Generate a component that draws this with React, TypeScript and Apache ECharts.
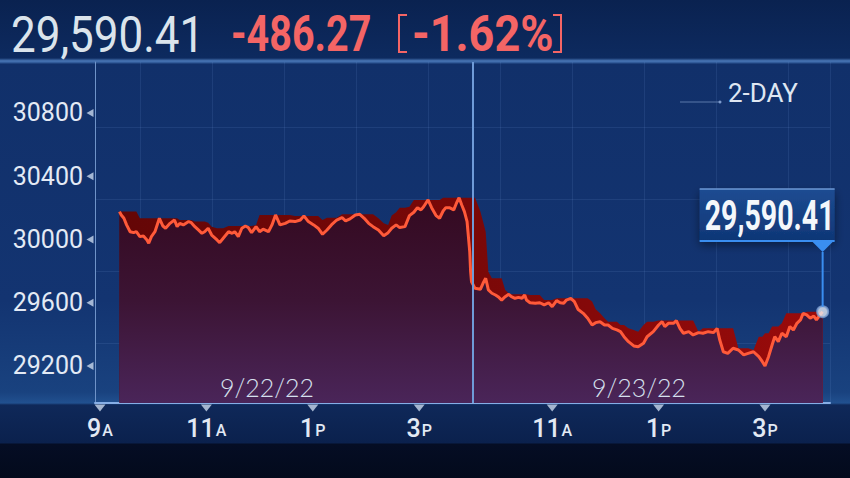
import React, { useEffect, useRef } from "react";
import * as echarts from "echarts";

// minutes after the 9:30 open of 9/22/22 (the 9/23/22 open is at 390)
const day1Times = [-8, -6, -3, 0, 4, 8, 11, 15, 19, 23, 25, 28, 32, 37, 41, 44, 49, 54, 57, 60, 64, 70, 73, 77, 81, 85, 88, 92, 96, 102, 105, 109, 115, 119, 122, 126, 130, 134, 137, 141, 146, 150, 154, 160, 164, 168, 173, 179, 184, 190, 196, 200, 205, 211, 216, 221, 226, 231, 237, 243, 247, 252, 258, 263, 268, 273, 278, 284, 290, 295, 299, 304, 308, 314, 319, 324, 328, 332, 335, 340, 344, 349, 353, 357, 360, 364, 369, 372, 375, 378, 381, 384, 385, 387, 388, 389];
const day1Values = [30176, 30155, 30134, 30092, 30049, 30043, 30049, 30018, 30022, 29997, 29976, 30018, 30049, 30134, 30085, 30071, 30102, 30123, 30081, 30102, 30092, 30113, 30106, 30081, 30060, 30039, 30049, 30071, 30028, 29997, 29980, 30008, 30049, 30039, 30049, 30018, 30071, 30085, 30077, 30043, 30081, 30049, 30065, 30049, 30092, 30155, 30092, 30102, 30117, 30113, 30123, 30149, 30113, 30092, 30071, 30033, 30060, 30092, 30123, 30138, 30117, 30130, 30155, 30159, 30134, 30102, 30081, 30060, 30024, 30043, 30071, 30092, 30075, 30081, 30151, 30172, 30201, 30187, 30207, 30250, 30201, 30151, 30134, 30180, 30201, 30201, 30187, 30229, 30264, 30218, 30176, 30113, 30049, 29923, 29796, 29733];
const day2Times = [393, 399, 402, 405, 408, 412, 416, 419, 423, 427, 431, 434, 438, 442, 446, 449, 451, 455, 461, 466, 471, 476, 480, 485, 489, 493, 496, 501, 505, 509, 515, 520, 525, 529, 534, 539, 543, 548, 553, 557, 561, 566, 572, 577, 583, 587, 594, 600, 604, 607, 611, 617, 620, 624, 628, 634, 639, 645, 650, 656, 662, 666, 669, 673, 678, 684, 690, 696, 701, 707, 713, 717, 720, 724, 728, 731, 735, 739, 744, 748, 752, 756, 760, 763, 767, 771, 775, 778, 782, 785];
const day2Values = [29691, 29685, 29723, 29755, 29681, 29660, 29649, 29638, 29617, 29638, 29653, 29638, 29628, 29634, 29628, 29649, 29617, 29600, 29597, 29600, 29586, 29600, 29575, 29613, 29600, 29597, 29617, 29628, 29607, 29559, 29533, 29502, 29459, 29474, 29480, 29459, 29459, 29438, 29428, 29417, 29385, 29354, 29327, 29322, 29344, 29385, 29417, 29459, 29480, 29449, 29470, 29470, 29487, 29438, 29407, 29417, 29396, 29411, 29407, 29417, 29411, 29438, 29364, 29290, 29280, 29312, 29301, 29270, 29280, 29290, 29259, 29227, 29200, 29259, 29333, 29385, 29354, 29407, 29385, 29449, 29428, 29470, 29491, 29533, 29523, 29502, 29516, 29491, 29523, 29543];

const yTicks = [29200, 29600, 30000, 30400, 30800];
const xTickValues = [-30, 90, 210, 330, 480, 600, 720];
const xTickHours = ["9", "11", "1", "3", "11", "1", "3"];
const xTickSuffix = ["A", "A", "P", "P", "A", "P", "P"];
const dayBreak = 390;
const dateLabels = ["9/22/22", "9/23/22"];
const lastPrice = "29,590.41";
const changeText = "-486.27";
const changePct = "-1.62%";
const rangeLabel = "2-DAY";

const X_MIN = -35.6;
const X_MAX = 793.3;
const Y_MIN = 28966;
const Y_MAX = 31122;

const FONT = "Roboto, 'DejaVu Sans', sans-serif";

export default function App() {
  const ref = useRef<HTMLDivElement>(null);

  useEffect(() => {
    if (!ref.current) return;
    const chart = echarts.init(ref.current, null, { renderer: "svg" });
    const times = [...day1Times, ...day2Times];
    const values = [...day1Values, ...day2Values];
    const pts = times.map((t, i) => [t, values[i]]);
    // ribbon shading above the line: local high of the read values
    const ribbon = times.map((t, i) => {
      let m = values[i];
      times.forEach((u, j) => {
        if (Math.abs(u - t) <= 20 && values[j] > m) m = values[j];
      });
      return [t, m];
    });
    const last = pts[pts.length - 1];

    chart.setOption({
      animation: false,
      backgroundColor: "transparent",
      grid: [
        { left: 95, top: 62, width: 735, height: 341 },
        { left: 140, top: 62, width: 690, height: 341 },
        { left: 95, top: 127, width: 735, height: 216 },
      ],
      xAxis: [
        {
          type: "value",
          gridIndex: 0,
          min: X_MIN,
          max: X_MAX,
          axisLine: { show: true, onZero: false, lineStyle: { color: "#86aee6", width: 2 } },
          axisTick: { show: false },
          splitLine: { show: false },
          axisLabel: {
            customValues: xTickValues,
            margin: 13,
            formatter: (v: number) => {
              const i = xTickValues.indexOf(v);
              return i < 0 ? "" : `{d|${xTickHours[i]}}{s|${xTickSuffix[i]}}`;
            },
            rich: {
              d: { fontSize: 25, fontFamily: FONT, fontWeight: 500, color: "#e2e9f4" },
              s: { fontSize: 16, fontFamily: FONT, fontWeight: 500, color: "#e2e9f4", padding: [4, 0, 0, 1] },
            },
          },
        },
        {
          type: "value",
          gridIndex: 1,
          min: 0,
          max: 690,
          interval: 72,
          axisLine: { show: false },
          axisTick: { show: false },
          axisLabel: { show: false },
          splitLine: { show: true, lineStyle: { color: "rgba(120,160,225,0.13)", width: 1 } },
        },
        { type: "value", gridIndex: 2, show: false, min: 0, max: 1 },
      ],
      yAxis: [
        {
          type: "value",
          gridIndex: 0,
          min: Y_MIN,
          max: Y_MAX,
          axisLine: { show: true, onZero: false, lineStyle: { color: "#6f93c8", width: 1 } },
          axisTick: { show: false },
          splitLine: { show: false },
          axisLabel: {
            customValues: yTicks,
            color: "#e3eaf5",
            fontSize: 25,
            fontFamily: FONT,
            margin: 12,
            formatter: (v: number) => String(v),
          },
        },
        { type: "value", gridIndex: 1, show: false, min: 0, max: 1 },
        {
          type: "value",
          gridIndex: 2,
          min: 0,
          max: 216,
          interval: 72,
          axisLine: { show: false },
          axisTick: { show: false },
          axisLabel: { show: false },
          splitLine: { show: true, lineStyle: { color: "rgba(120,160,225,0.13)", width: 1 } },
        },
      ],
      series: [
        {
          type: "line",
          name: "ribbon",
          data: ribbon,
          symbol: "none",
          lineStyle: { width: 0 },
          areaStyle: {
            opacity: 1,
            color: new echarts.graphic.LinearGradient(0, 0, 1, 0, [
              { offset: 0, color: "#640606" },
              { offset: 0.5, color: "#7a0808" },
              { offset: 1, color: "#9a0b0b" },
            ]),
          },
          silent: true,
          z: 2,
        },
        {
          type: "line",
          name: "fill",
          data: pts,
          symbol: "none",
          lineStyle: { width: 0 },
          areaStyle: {
            opacity: 1,
            color: new echarts.graphic.LinearGradient(0, 0, 0, 1, [
              { offset: 0, color: "#340920" },
              { offset: 0.5, color: "#3c1434" },
              { offset: 1, color: "#4a2559" },
            ]),
          },
          silent: true,
          z: 3,
        },
        {
          type: "line",
          name: "DJIA",
          data: pts,
          symbol: "none",
          lineStyle: { color: "#ff5a3a", width: 3 },
          z: 4,
          markLine: {
            silent: true,
            symbol: "none",
            label: { show: false },
            lineStyle: { color: "#6f9bd8", width: 2, type: "solid" },
            data: [{ xAxis: dayBreak }],
          },
        },
        {
          type: "scatter",
          data: yTicks.map((v) => [X_MIN, v]),
          symbol: "triangle",
          symbolRotate: 90,
          symbolSize: [8, 7],
          symbolOffset: [-5, 0],
          itemStyle: { color: "#c9d8ee" },
          clip: false,
          silent: true,
          z: 6,
        },
        {
          type: "scatter",
          data: xTickValues.map((t) => [t, Y_MIN]),
          symbol: "triangle",
          symbolRotate: 180,
          symbolSize: [11, 7],
          symbolOffset: [0, 5],
          itemStyle: { color: "#c9d8ee" },
          clip: false,
          silent: true,
          z: 6,
        },
        {
          type: "scatter",
          data: [last],
          symbol: "circle",
          symbolSize: 11,
          itemStyle: { color: "#e4ebf5", borderColor: "#7d9fd2", borderWidth: 2 },
          clip: false,
          silent: true,
          z: 8,
        },
      ],
    });

    const p = chart.convertToPixel({ gridIndex: 0 }, last) as number[];
    const px = p[0];
    const py = p[1];
    const red = "#f46565";
    const textStyle = (extra: any) => ({
      fontFamily: FONT,
      verticalAlign: "middle",
      textVerticalAlign: "middle",
      align: "left",
      textAlign: "left",
      ...extra,
    });

    chart.setOption({
      graphic: [
        { type: "text", z: 20, x: 11, y: 34, scaleX: 0.88, style: textStyle({ text: lastPrice, fontSize: 50, fill: "#dbe4ec" }) },
        { type: "text", z: 20, x: 231, y: 34, scaleX: 0.79, style: textStyle({ text: changeText, fontSize: 50, fontWeight: "bold", fill: red }) },
        { type: "polyline", z: 20, shape: { points: [[407, 15], [399, 15], [399, 52], [407, 52]] }, style: { stroke: red, lineWidth: 2, fill: "none" } },
        { type: "text", z: 20, x: 412, y: 34, scaleX: 0.9, style: textStyle({ text: changePct, fontSize: 50, fontWeight: "bold", fill: red }) },
        { type: "polyline", z: 20, shape: { points: [[553, 15], [561, 15], [561, 52], [553, 52]] }, style: { stroke: red, lineWidth: 2, fill: "none" } },
        { type: "line", z: 20, shape: { x1: 680, y1: 102, x2: 719, y2: 102 }, style: { stroke: "#5a79aa", lineWidth: 1 } },
        { type: "circle", z: 20, shape: { cx: 720, cy: 102, r: 1.5 }, style: { fill: "#7d9bcc" } },
        { type: "text", z: 20, x: 728, y: 93, style: textStyle({ text: rangeLabel, fontSize: 26, fill: "#dfe7f2" }) },
        { type: "text", z: 20, x: 267, y: 387, style: textStyle({ text: dateLabels[0], fontSize: 25, fontFamily: "Lato, " + FONT, fontWeight: 300, fill: "#d6e0ee", align: "center", textAlign: "center" }) },
        { type: "text", z: 20, x: 639, y: 387, style: textStyle({ text: dateLabels[1], fontSize: 25, fontFamily: "Lato, " + FONT, fontWeight: 300, fill: "#d6e0ee", align: "center", textAlign: "center" }) },
        {
          type: "rect",
          z: 20,
          shape: { x: px - 123, y: 189, width: 135, height: 52 },
          style: {
            fill: new echarts.graphic.LinearGradient(0, 0, 0, 1, [
              { offset: 0, color: "#1d4c92" },
              { offset: 1, color: "#0f3676" },
            ]),
            shadowColor: "rgba(0,0,0,0.45)",
            shadowBlur: 10,
            shadowOffsetY: 4,
          },
        },
        { type: "line", z: 21, shape: { x1: px - 123, y1: 189, x2: px + 12, y2: 189 }, style: { stroke: "#6d98d6", lineWidth: 1.5 } },
        { type: "line", z: 21, shape: { x1: px - 123, y1: 241, x2: px + 12, y2: 241 }, style: { stroke: "#3a8ef0", lineWidth: 2 } },
        { type: "polygon", z: 21, shape: { points: [[px - 11, 241], [px + 11, 241], [px, 252]] }, style: { fill: "#3a8ef0" } },
        { type: "line", z: 21, shape: { x1: px, y1: 252, x2: px, y2: py - 5 }, style: { stroke: "#3a8ef0", lineWidth: 2 } },
        { type: "text", z: 22, x: px - 118, y: 216, scaleX: 0.68, style: textStyle({ text: lastPrice, fontSize: 42, fontWeight: "bold", fill: "#f4f7fb" }) },
      ],
    });

    return () => chart.dispose();
  }, []);

  return (
    <div
      style={{
        position: "fixed",
        left: 0,
        top: 0,
        width: 850,
        height: 478,
        background:
          "linear-gradient(180deg, #0a2250 0px, #0d2a5f 58px, #4a78b8 61px, #2a5290 63px, #11306a 64px, #133471 300px, #19427f 392px, #21508f 403px, #0f2859 405px, #0b214d 443px, #050d24 444px, #030a1c 478px)",
      }}
    >
      <div ref={ref} style={{ width: 850, height: 478 }} />
    </div>
  );
}
